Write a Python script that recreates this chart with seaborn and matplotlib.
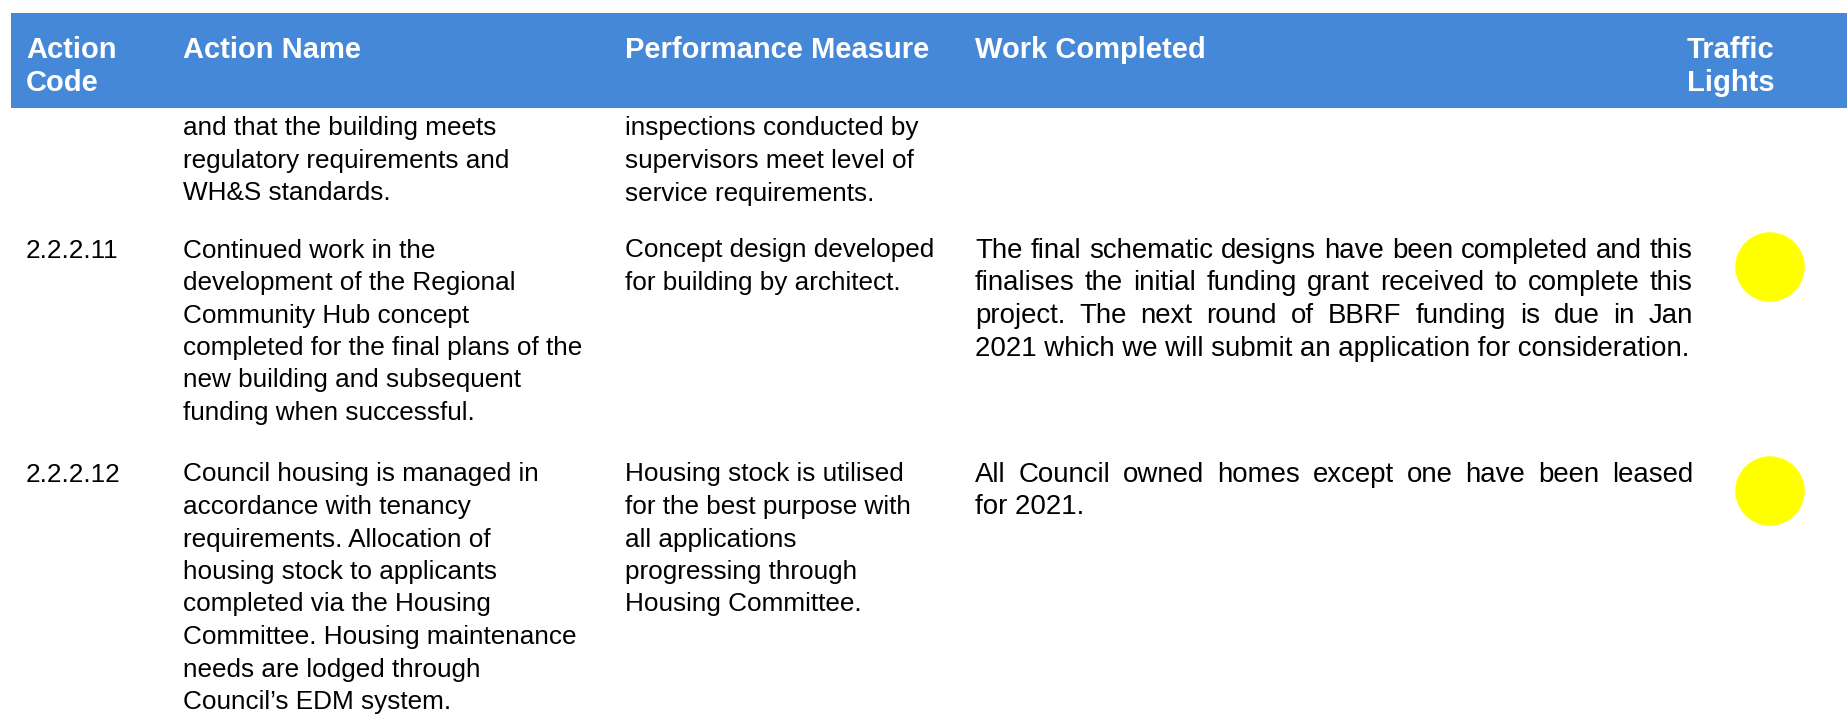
import matplotlib
matplotlib.use("Agg")
import matplotlib.pyplot as plt
from matplotlib.patches import Rectangle
import seaborn as sns
import pandas as pd

# ---------------- data ----------------
headers = ["Action\nCode", "Action Name", "Performance Measure", "Work Completed", "Traffic\nLights"]

action_codes = ["", "2.2.2.11", "2.2.2.12"]

action_names = [
    ["and that the building meets", "regulatory requirements and", "WH&S standards."],
    ["Continued work in the", "development of the Regional", "Community Hub concept",
     "completed for the final plans of the", "new building and subsequent",
     "funding when successful."],
    ["Council housing is managed in", "accordance with tenancy", "requirements. Allocation of",
     "housing stock to applicants", "completed via the Housing",
     "Committee. Housing maintenance", "needs are lodged through", "Council\u2019s EDM system."],
]

performance_measures = [
    ["inspections conducted by", "supervisors meet level of", "service requirements."],
    ["Concept design developed", "for building by architect."],
    ["Housing stock is utilised", "for the best purpose with", "all applications",
     "progressing through", "Housing Committee."],
]

work_completed = [
    [],
    ["The final schematic designs have been completed and this",
     "finalises the initial funding grant received to complete this",
     "project. The next round of BBRF funding is due in Jan",
     "2021 which we will submit an application for consideration."],
    ["All Council owned homes except one have been leased", "for 2021."],
]

traffic_lights = [None, "yellow", "yellow"]

# ---------------- style / layout ----------------
sns.set_theme(style="white")
plt.rcParams["font.family"] = ["Liberation Sans", "DejaVu Sans"]

W, H = 1847, 714
fig = plt.figure(figsize=(W / 100, H / 100), dpi=100)
ax = fig.add_axes([0, 0, 1, 1])
ax.set_xlim(0, W)
ax.set_ylim(H, 0)
ax.axis("off")

HEADER_COLOR = "#4688D8"
LIGHT_COLORS = {"yellow": "#FFFF00"}
BODY_SIZE = 18.8
WORK_SIZE = 19.9
HEAD_SIZE = 21
LINE = 32.5
col_x = [26, 183, 625, 975, 1687]
row_first_center = [126, 248, 472]
light_x = 1770
light_dy = 19
work_right = 1693

# header band
ax.add_patch(Rectangle((11, 13), W - 11, 95, facecolor=HEADER_COLOR, edgecolor="none"))
for x, h in zip(col_x, headers):
    for i, part in enumerate(h.split("\n")):
        ax.text(x, 47 + i * 33, part, color="white", fontsize=HEAD_SIZE,
                fontweight="bold", va="center_baseline", ha="left")

renderer = fig.canvas.get_renderer()


def text_width(s, size):
    t = ax.text(0, 0, s, fontsize=size)
    w = t.get_window_extent(renderer=renderer).width
    t.remove()
    return w


def draw_lines(x, yc, lines, size=BODY_SIZE, justify_right=None):
    for i, line in enumerate(lines):
        y = yc + i * LINE
        last = i == len(lines) - 1
        if justify_right is None or last:
            ax.text(x, y, line, fontsize=size, color="black",
                    va="center_baseline", ha="left")
        else:
            words = line.split(" ")
            widths = [text_width(w, size) for w in words]
            gap = (justify_right - x - sum(widths)) / max(len(words) - 1, 1)
            cx = x
            for w, wd in zip(words, widths):
                ax.text(cx, y, w, fontsize=size, color="black",
                        va="center_baseline", ha="left")
                cx += wd + gap


for r in range(len(action_codes)):
    yc = row_first_center[r]
    if action_codes[r]:
        draw_lines(col_x[0], yc, [action_codes[r]])
    draw_lines(col_x[1], yc, action_names[r])
    draw_lines(col_x[2], yc, performance_measures[r])
    draw_lines(col_x[3], yc, work_completed[r], size=WORK_SIZE, justify_right=work_right)

# traffic lights via seaborn
lights = pd.DataFrame({
    "x": [light_x for c in traffic_lights if c],
    "y": [row_first_center[i] + light_dy for i, c in enumerate(traffic_lights) if c],
    "status": [c for c in traffic_lights if c],
})
sns.scatterplot(data=lights, x="x", y="y", hue="status", palette=LIGHT_COLORS,
                s=2500, linewidth=0, legend=False, ax=ax)
ax.set_xlim(0, W)
ax.set_ylim(H, 0)
ax.axis("off")

fig.savefig("out.png", dpi=100)
